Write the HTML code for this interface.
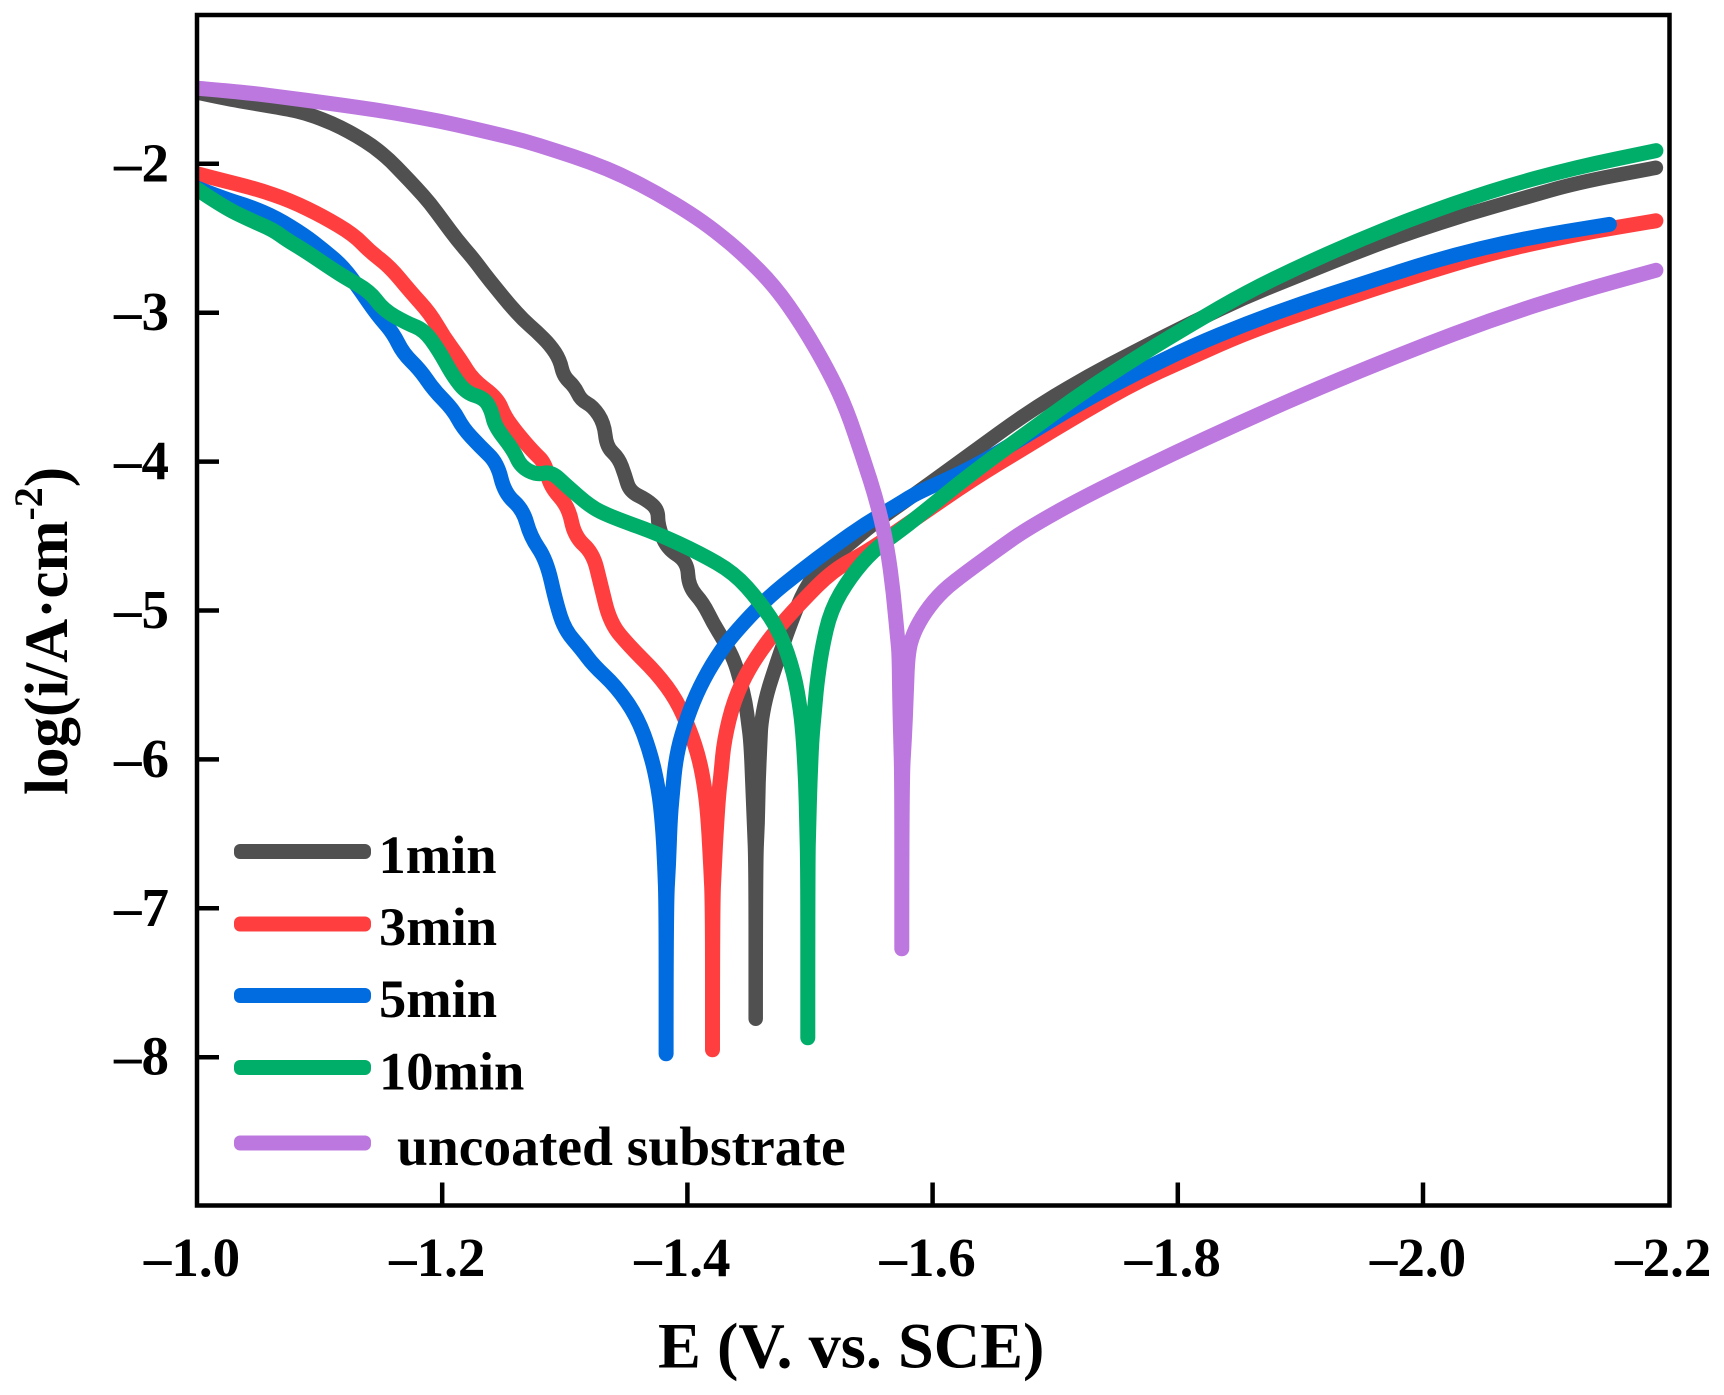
<!DOCTYPE html>
<html lang="en">
<head>
<meta charset="utf-8">
<title>Polarization curves</title>
<style>
html,body{margin:0;padding:0;background:#fff;}
svg{display:block;}
text{font-family:"Liberation Serif",serif;font-weight:bold;fill:#000;}
</style>
</head>
<body>
<svg id="chart" xmlns="http://www.w3.org/2000/svg" width="1724" height="1395" viewBox="0 0 1724 1395">
<rect x="0" y="0" width="1724" height="1395" fill="#ffffff"/>
<defs><clipPath id="plot-clip"><rect x="197" y="15" width="1472.5" height="1190.5"/></clipPath></defs>
<g id="series-layer" clip-path="url(#plot-clip)"></g>
<rect x="197" y="15" width="1472.5" height="1190.5" fill="none" stroke="#000" stroke-width="4.5"/>
<g id="tick-layer"></g>
<text x="658" y="1367.5" font-size="64.3">E (V. vs. SCE)</text>
<text transform="translate(67 795) rotate(-90)" font-size="61">log(i/A·cm<tspan font-size="40" dy="-25">-2</tspan><tspan dy="25">)</tspan></text>
<g id="legend-layer"></g>
</svg>
<script>
const xTickValues = [-1.0, -1.2, -1.4, -1.6, -1.8, -2.0, -2.2];
const xTickLabels = ["–1.0", "–1.2", "–1.4", "–1.6", "–1.8", "–2.0", "–2.2"];
const yTickValues = [-2, -3, -4, -5, -6, -7, -8];
const yTickLabels = ["–2", "–3", "–4", "–5", "–6", "–7", "–8"];
const legendLabels = ["1min", "3min", "5min", "10min", "uncoated substrate"];

const e1min = [-1.000,-1.021,-1.049,-1.076,-1.089,-1.103,-1.117,-1.130,-1.144,-1.157,-1.168,-1.179,-1.190,-1.201,-1.212,-1.225,-1.234,-1.245,-1.255,-1.266,-1.277,-1.288,-1.296,-1.299,-1.308,-1.313,-1.323,-1.332,-1.334,-1.344,-1.349,-1.353,-1.367,-1.376,-1.376,-1.383,-1.400,-1.401,-1.413,-1.421,-1.431,-1.438,-1.443,-1.4475,-1.4497,-1.4515,-1.453,-1.4544,-1.4557,-1.4557,-1.4557,-1.4574,-1.4579,-1.4595,-1.4601,-1.4635,-1.470,-1.487,-1.499,-1.514,-1.533,-1.552,-1.587,-1.632,-1.677,-1.722,-1.767,-1.812,-1.856,-1.901,-1.946,-1.991,-2.036,-2.081,-2.125,-2.190];
const log1min = [-1.521,-1.559,-1.599,-1.637,-1.662,-1.704,-1.754,-1.812,-1.884,-1.973,-2.067,-2.163,-2.264,-2.387,-2.510,-2.634,-2.734,-2.846,-2.947,-3.048,-3.126,-3.216,-3.317,-3.428,-3.496,-3.585,-3.630,-3.742,-3.899,-3.977,-4.089,-4.201,-4.257,-4.324,-4.425,-4.582,-4.671,-4.839,-4.951,-5.085,-5.220,-5.332,-5.466,-5.620,-5.760,-5.872,-6.150,-6.430,-6.710,-7.742,-6.710,-6.430,-6.150,-5.872,-5.760,-5.600,-5.421,-5.018,-4.805,-4.671,-4.548,-4.414,-4.211,-3.942,-3.672,-3.447,-3.252,-3.064,-2.892,-2.743,-2.593,-2.458,-2.338,-2.233,-2.128,-2.026];

const e3min = [-1.000,-1.021,-1.049,-1.076,-1.103,-1.128,-1.141,-1.157,-1.174,-1.190,-1.201,-1.215,-1.225,-1.245,-1.251,-1.261,-1.274,-1.284,-1.288,-1.303,-1.308,-1.323,-1.329,-1.337,-1.353,-1.375,-1.391,-1.402,-1.410,-1.4149,-1.4171,-1.419,-1.4205,-1.4205,-1.4205,-1.422,-1.4239,-1.4255,-1.4275,-1.430,-1.438,-1.451,-1.470,-1.492,-1.519,-1.546,-1.587,-1.632,-1.677,-1.722,-1.767,-1.812,-1.856,-1.924,-1.991,-2.058,-2.125,-2.190];
const log3min = [-2.067,-2.112,-2.170,-2.246,-2.354,-2.477,-2.589,-2.690,-2.858,-3.003,-3.160,-3.317,-3.451,-3.574,-3.697,-3.809,-3.932,-4.011,-4.167,-4.302,-4.503,-4.615,-4.817,-5.085,-5.242,-5.421,-5.600,-5.802,-6.003,-6.234,-6.430,-6.710,-6.980,-7.950,-6.980,-6.710,-6.430,-6.234,-6.090,-5.869,-5.600,-5.376,-5.153,-4.951,-4.727,-4.610,-4.377,-4.122,-3.897,-3.672,-3.462,-3.297,-3.133,-2.938,-2.758,-2.593,-2.473,-2.383];

const e5min = [-1.000,-1.021,-1.043,-1.065,-1.087,-1.103,-1.119,-1.133,-1.147,-1.160,-1.168,-1.182,-1.193,-1.209,-1.217,-1.231,-1.245,-1.251,-1.266,-1.272,-1.285,-1.293,-1.300,-1.314,-1.323,-1.342,-1.359,-1.370,-1.3765,-1.3796,-1.3815,-1.3826,-1.3826,-1.3826,-1.3847,-1.3858,-1.3875,-1.391,-1.400,-1.410,-1.424,-1.438,-1.465,-1.492,-1.519,-1.546,-1.574,-1.587,-1.632,-1.677,-1.722,-1.767,-1.812,-1.856,-1.901,-1.946,-2.013,-2.081,-2.152];
const log5min = [-2.163,-2.231,-2.287,-2.365,-2.477,-2.578,-2.690,-2.846,-3.014,-3.137,-3.272,-3.384,-3.518,-3.652,-3.776,-3.899,-4.011,-4.212,-4.324,-4.503,-4.660,-4.951,-5.130,-5.264,-5.365,-5.511,-5.712,-5.959,-6.200,-6.430,-6.710,-6.980,-7.977,-6.980,-6.710,-6.430,-6.250,-5.959,-5.712,-5.511,-5.309,-5.153,-4.917,-4.738,-4.570,-4.414,-4.279,-4.210,-4.047,-3.822,-3.597,-3.402,-3.222,-3.073,-2.938,-2.818,-2.638,-2.503,-2.407];

const e10min = [-1.000,-1.021,-1.043,-1.062,-1.073,-1.089,-1.111,-1.122,-1.141,-1.152,-1.171,-1.185,-1.197,-1.209,-1.220,-1.234,-1.240,-1.243,-1.258,-1.264,-1.277,-1.289,-1.302,-1.321,-1.337,-1.375,-1.410,-1.438,-1.459,-1.476,-1.487,-1.4924,-1.4946,-1.4965,-1.4973,-1.4982,-1.4982,-1.4982,-1.499,-1.500,-1.5014,-1.5036,-1.5055,-1.5095,-1.517,-1.533,-1.552,-1.574,-1.587,-1.632,-1.677,-1.722,-1.767,-1.812,-1.856,-1.901,-1.946,-1.991,-2.058,-2.125,-2.190];
const log10min = [-2.170,-2.287,-2.376,-2.443,-2.510,-2.589,-2.712,-2.768,-2.858,-2.981,-3.070,-3.115,-3.249,-3.428,-3.540,-3.574,-3.652,-3.764,-3.921,-4.033,-4.089,-4.067,-4.167,-4.302,-4.369,-4.481,-4.615,-4.747,-4.940,-5.153,-5.421,-5.676,-5.872,-6.150,-6.430,-6.710,-7.870,-6.710,-6.430,-6.150,-5.872,-5.676,-5.500,-5.264,-4.996,-4.772,-4.593,-4.460,-4.377,-4.077,-3.807,-3.537,-3.297,-3.073,-2.863,-2.683,-2.518,-2.368,-2.173,-2.023,-1.912];

const eUncoated = [-1.000,-1.021,-1.049,-1.076,-1.103,-1.130,-1.157,-1.185,-1.212,-1.239,-1.266,-1.293,-1.321,-1.348,-1.375,-1.402,-1.4225,-1.445,-1.471,-1.494,-1.516,-1.530,-1.543,-1.555,-1.563,-1.568,-1.5715,-1.5727,-1.5732,-1.574,-1.5749,-1.5749,-1.5749,-1.577,-1.5784,-1.5798,-1.5844,-1.594,-1.608,-1.628,-1.655,-1.677,-1.722,-1.789,-1.856,-1.923,-1.991,-2.058,-2.126,-2.190];
const logUncoated = [-1.492,-1.507,-1.530,-1.559,-1.588,-1.619,-1.653,-1.693,-1.738,-1.790,-1.843,-1.913,-1.989,-2.081,-2.197,-2.331,-2.450,-2.604,-2.819,-3.088,-3.404,-3.652,-3.968,-4.277,-4.572,-4.881,-5.197,-5.286,-5.593,-5.872,-6.150,-7.272,-6.150,-5.872,-5.593,-5.286,-5.147,-5.009,-4.868,-4.740,-4.579,-4.451,-4.243,-3.974,-3.719,-3.477,-3.249,-3.041,-2.860,-2.715];

function xScale(v) { return 197 + (-1 - v) * 1226; }
function yScale(v) { return 163.8 + (-2 - v) * 148.9; }

const NS = "http://www.w3.org/2000/svg";

function armPath(pts) {
  let d = "M" + pts[0][0].toFixed(1) + " " + pts[0][1].toFixed(1);
  for (let i = 1; i < pts.length - 1; i++) {
    const mx = (pts[i][0] + pts[i + 1][0]) / 2;
    const my = (pts[i][1] + pts[i + 1][1]) / 2;
    d += "Q" + pts[i][0].toFixed(1) + " " + pts[i][1].toFixed(1) + " " + mx.toFixed(1) + " " + my.toFixed(1);
  }
  const last = pts[pts.length - 1];
  d += "L" + last[0].toFixed(1) + " " + last[1].toFixed(1);
  return d;
}

function curvePath(es, logs) {
  const pts = es.map(function (e, i) { return [xScale(e), yScale(logs[i])]; });
  let tip = 0;
  logs.forEach(function (v, i) { if (v < logs[tip]) tip = i; });
  return armPath(pts.slice(0, tip + 1)) + armPath(pts.slice(tip));
}

const seriesLayer = document.getElementById("series-layer");
function drawSeries(name, es, logs, color, width) {
  const p = document.createElementNS(NS, "path");
  p.setAttribute("d", curvePath(es, logs));
  p.setAttribute("fill", "none");
  p.setAttribute("stroke", color);
  p.setAttribute("stroke-width", width);
  p.setAttribute("stroke-linecap", "round");
  p.setAttribute("stroke-linejoin", "round");
  
  
  seriesLayer.appendChild(p);
}
drawSeries("series-1min", e1min, log1min, "#505050", 14.5);
drawSeries("series-3min", e3min, log3min, "#FF3F3F", 15);
drawSeries("series-5min", e5min, log5min, "#006CE0", 15);
drawSeries("series-10min", e10min, log10min, "#00AE6A", 15);
drawSeries("series-uncoated-substrate", eUncoated, logUncoated, "#BC78DF", 15);

const tickLayer = document.getElementById("tick-layer");
xTickValues.forEach(function (v, i) {
  const x = xScale(v);
  if (i > 0 && i < xTickValues.length - 1) {
    const l = document.createElementNS(NS, "line");
    l.setAttribute("x1", x); l.setAttribute("x2", x);
    l.setAttribute("y1", 1205); l.setAttribute("y2", 1182.5);
    l.setAttribute("stroke", "#000"); l.setAttribute("stroke-width", 4.5);
    
    
    tickLayer.appendChild(l);
  }
  const t = document.createElementNS(NS, "text");
  t.setAttribute("x", x - 5); t.setAttribute("y", 1276);
  t.setAttribute("text-anchor", "middle");
  t.setAttribute("font-size", 55);
  
  
  t.textContent = xTickLabels[i];
  tickLayer.appendChild(t);
});
yTickValues.forEach(function (v, i) {
  const y = yScale(v);
  const l = document.createElementNS(NS, "line");
  l.setAttribute("x1", 197); l.setAttribute("x2", 219);
  l.setAttribute("y1", y); l.setAttribute("y2", y);
  l.setAttribute("stroke", "#000"); l.setAttribute("stroke-width", 4.5);
  
  
  tickLayer.appendChild(l);
  const t = document.createElementNS(NS, "text");
  t.setAttribute("x", 169); t.setAttribute("y", y + 17.5);
  t.setAttribute("text-anchor", "end");
  t.setAttribute("font-size", 55);
  
  
  t.textContent = yTickLabels[i];
  tickLayer.appendChild(t);
});

const legendLayer = document.getElementById("legend-layer");
function drawLegend(i, color, swatchY, textX, textY, size) {
  const r = document.createElementNS(NS, "rect");
  r.setAttribute("x", 234); r.setAttribute("y", swatchY - 7.5);
  r.setAttribute("width", 137); r.setAttribute("height", 15);
  r.setAttribute("rx", 6); r.setAttribute("fill", color);
  
  
  legendLayer.appendChild(r);
  const t = document.createElementNS(NS, "text");
  t.setAttribute("x", textX); t.setAttribute("y", textY);
  t.setAttribute("font-size", size);
  
  
  t.textContent = legendLabels[i];
  legendLayer.appendChild(t);
}
drawLegend(0, "#505050", 851.5, 378.5, 873, 54.5);
drawLegend(1, "#FF3F3F", 924, 379, 945, 54.5);
drawLegend(2, "#006CE0", 995.5, 379, 1017, 54.5);
drawLegend(3, "#00AE6A", 1067.5, 379, 1089.5, 54.5);
drawLegend(4, "#BC78DF", 1143, 397, 1165, 55.5);
</script>
</body>
</html>
